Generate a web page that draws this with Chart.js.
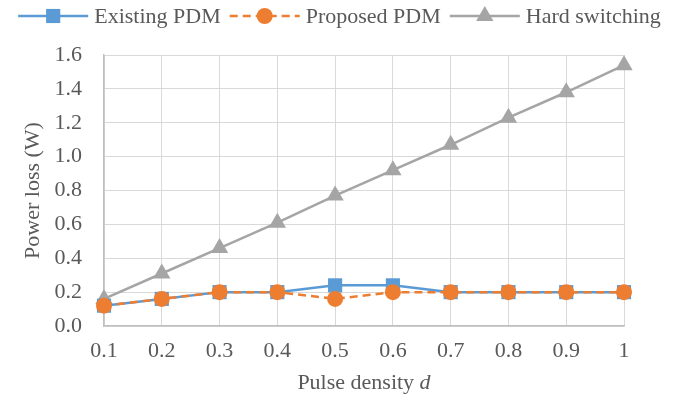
<!DOCTYPE html>
<html>
<head>
<meta charset="utf-8">
<script src="https://cdn.jsdelivr.net/npm/chart.js@4"></script>
<style>
  html, body { margin: 0; padding: 0; background: #fff; }
  #wrap { width: 679px; height: 398px; }
</style>
</head>
<body>
<div id="wrap"><canvas id="graph"></canvas></div>
<script>
const DENSITY = [0.1, 0.2, 0.3, 0.4, 0.5, 0.6, 0.7, 0.8, 0.9, 1];
const EXISTING = [0.12, 0.16, 0.2, 0.2, 0.24, 0.24, 0.2, 0.2, 0.2, 0.2];
const PROPOSED = [0.12, 0.16, 0.2, 0.2, 0.16, 0.2, 0.2, 0.2, 0.2, 0.2];
const HARD = [0.16, 0.31, 0.46, 0.61, 0.77, 0.92, 1.07, 1.23, 1.38, 1.54];
const LABELS = ["Existing PDM", "Proposed PDM", "Hard switching"];

const FONT = "'Liberation Serif', 'Times New Roman', serif";
const TEXT = "#595959";
const BLUE = "#5B9BD5";
const ORANGE = "#ED7D31";
const GREY = "#A5A5A5";

const toPoints = (ys) => DENSITY.map((x, i) => ({ x: x, y: ys[i] }));

const drawMarker = (ctx, style, x, y, r) => {
    ctx.beginPath();
    if (style === "rect") {
        const s = Math.SQRT1_2 * r;
        ctx.rect(x - s, y - s, 2 * s, 2 * s);
    } else if (style === "circle") {
        ctx.arc(x, y, r, 0, Math.PI * 2);
    } else {
        ctx.moveTo(x, y - r);
        ctx.lineTo(x + r * Math.sin(Math.PI / 3), y + r / 2);
        ctx.lineTo(x - r * Math.sin(Math.PI / 3), y + r / 2);
        ctx.closePath();
    }
    ctx.fill();
};

// legend + axis titles (x title has an italic "d")
const decorations = {
    id: "decorations",
    afterDraw(chart) {
        const ctx = chart.ctx;
        const area = chart.chartArea;
        ctx.save();
        ctx.font = `22px ${FONT}`;
        ctx.fillStyle = TEXT;
        ctx.textBaseline = "middle";

        // legend
        const items = [
            { label: LABELS[0], color: BLUE, dash: [], style: "rect", r: 10 },
            { label: LABELS[1], color: ORANGE, dash: [8, 5], style: "circle", r: 8 },
            { label: LABELS[2], color: GREY, dash: [], style: "triangle", r: 10 },
        ];
        const lineLen = 70, gap = 6, between = 9;
        let total = 0;
        items.forEach((it, i) => {
            it.w = ctx.measureText(it.label).width;
            total += lineLen + gap + it.w + (i < items.length - 1 ? between : 0);
        });
        let x = (chart.width - total) / 2;
        const ly = 16;
        items.forEach((it) => {
            ctx.strokeStyle = it.color;
            ctx.fillStyle = it.color;
            ctx.lineWidth = 2.5;
            ctx.setLineDash(it.dash);
            ctx.beginPath();
            ctx.moveTo(x, ly);
            ctx.lineTo(x + lineLen, ly);
            ctx.stroke();
            ctx.setLineDash([]);
            drawMarker(ctx, it.style, x + lineLen / 2, ly, it.r);
            ctx.fillStyle = TEXT;
            ctx.textAlign = "left";
            ctx.fillText(it.label, x + lineLen + gap, ly + 1);
            x += lineLen + gap + it.w + between;
        });

        // x title
        const plain = "Pulse density ";
        ctx.font = `22px ${FONT}`;
        const w1 = ctx.measureText(plain).width;
        ctx.font = `italic 22px ${FONT}`;
        const w2 = ctx.measureText("d").width;
        const cx = (area.left + area.right) / 2;
        let tx = cx - (w1 + w2) / 2;
        ctx.textAlign = "left";
        ctx.font = `22px ${FONT}`;
        ctx.fillText(plain, tx, 383);
        ctx.font = `italic 22px ${FONT}`;
        ctx.fillText("d", tx + w1, 383);

        // y title
        ctx.font = `22px ${FONT}`;
        ctx.translate(33, (area.top + area.bottom) / 2);
        ctx.rotate(-Math.PI / 2);
        ctx.textAlign = "center";
        ctx.fillText("Power loss (W)", 0, 0);
        ctx.restore();
    },
};

const ctx = document.getElementById("graph");

new Chart(ctx, {
    type: "line",
    data: {
        datasets: [
            {
                label: LABELS[0],
                data: toPoints(EXISTING),
                borderColor: BLUE,
                backgroundColor: BLUE,
                borderWidth: 2.5,
                pointStyle: "rect",
                pointRadius: 10,
                pointBorderWidth: 0,
                clip: false,
                order: 1,
            },
            {
                label: LABELS[1],
                data: toPoints(PROPOSED),
                borderColor: ORANGE,
                backgroundColor: ORANGE,
                borderWidth: 2.5,
                borderDash: [8, 5],
                pointStyle: "circle",
                pointRadius: 8,
                pointBorderWidth: 0,
                clip: false,
                order: 0,
            },
            {
                label: LABELS[2],
                data: toPoints(HARD),
                borderColor: GREY,
                backgroundColor: GREY,
                borderWidth: 2.5,
                pointStyle: "triangle",
                pointRadius: 10,
                pointBorderWidth: 0,
                clip: false,
                order: 2,
            },
        ],
    },
    options: {
        responsive: true,
        maintainAspectRatio: false,
        animation: false,
        layout: {
            padding: { top: 55, right: 55, bottom: 0, left: 0 },
        },
        plugins: {
            legend: { display: false },
            tooltip: { enabled: false },
        },
        scales: {
            x: {
                type: "linear",
                min: 0.1,
                max: 1,
                afterFit: (s) => { s.height = 72; },
                grid: {
                    color: "#D9D9D9",
                    drawTicks: false,
                },
                border: { color: "#BFBFBF", width: 1.5 },
                ticks: {
                    stepSize: 0.1,
                    padding: 12,
                    color: TEXT,
                    font: { family: FONT, size: 22 },
                    callback: (v) => String(+v.toFixed(1)),
                },
            },
            y: {
                min: 0,
                max: 1.6,
                afterFit: (s) => { s.width = 104; },
                grid: {
                    color: "#D9D9D9",
                    drawTicks: false,
                },
                border: { color: "#BFBFBF", width: 1.5 },
                ticks: {
                    stepSize: 0.2,
                    padding: 22,
                    color: TEXT,
                    font: { family: FONT, size: 22 },
                    callback: (v) => v.toFixed(1),
                },
            },
        },
    },
    plugins: [decorations],
});
</script>
</body>
</html>
